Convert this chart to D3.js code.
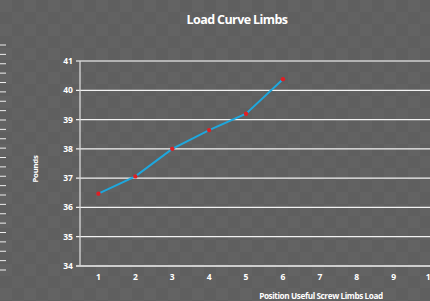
<!DOCTYPE html>
<html>
<head>
<meta charset="utf-8">
<script src="https://cdn.jsdelivr.net/npm/d3@7"></script>
<style>
  body { margin: 0; background: #606060; }
  svg { display: block; font-family: "Open Sans", "DejaVu Sans", sans-serif; }
</style>
</head>
<body>
<div id="chart"></div>
<script>
/* DATA */
const positions = ["1", "2", "3", "4", "5", "6", "7", "8", "9", "10"];
const pounds = [36.47, 37.06, 38.0, 38.64, 39.2, 40.38];
const yTicks = [34, 35, 36, 37, 38, 39, 40, 41];
// stray tick marks at the far left of the picture
const strayTicks = d3.range(0, 25);

const width = 430, height = 301;
const margin = { top: 61, left: 80, bottom: 35 };

const svg = d3.select("#chart").append("svg")
  .attr("width", width)
  .attr("height", height);

// textured background (subtle)
const defs = svg.append("defs");
const pat = defs.append("pattern")
  .attr("id", "tex")
  .attr("width", 24).attr("height", 24)
  .attr("patternUnits", "userSpaceOnUse");
pat.append("rect").attr("width", 24).attr("height", 24).attr("fill", "#5f5f5f");
pat.append("rect").attr("x", 0).attr("y", 0).attr("width", 12).attr("height", 12).attr("fill", "#636363");
pat.append("rect").attr("x", 12).attr("y", 12).attr("width", 12).attr("height", 12).attr("fill", "#626262");
svg.append("rect").attr("width", width).attr("height", height).attr("fill", "url(#tex)");

// SCALES
const x = d3.scaleBand()
  .domain(positions)
  .range([margin.left, margin.left + 36.9 * 10]);

const y = d3.scaleLinear()
  .domain([34, 41])
  .range([266, margin.top]);

// stray ticks
const sy = d3.scaleLinear().domain([0, 24]).range([45, 270]);
svg.append("g")
  .selectAll("line")
  .data(strayTicks)
  .join("line")
  .attr("x1", 0).attr("x2", 6)
  .attr("y1", d => sy(d)).attr("y2", d => sy(d))
  .attr("stroke", "#eeeeee")
  .attr("stroke-width", 1);

// gridlines
svg.append("g")
  .selectAll("line")
  .data(yTicks)
  .join("line")
  .attr("x1", margin.left - 4).attr("x2", width)
  .attr("y1", d => y(d)).attr("y2", d => y(d))
  .attr("stroke", d => d === 41 ? "#cfcfcf" : "#f2f2f2")
  .attr("stroke-width", 1.3);

// y axis line
svg.append("line")
  .attr("x1", margin.left).attr("x2", margin.left)
  .attr("y1", y(41)).attr("y2", y(34))
  .attr("stroke", "#d8d8d8")
  .attr("stroke-width", 1.3);

// y tick labels
svg.append("g")
  .selectAll("text")
  .data(yTicks)
  .join("text")
  .attr("x", 68)
  .attr("y", d => y(d) + 3)
  .attr("text-anchor", "middle")
  .attr("font-size", 8.5)
  .attr("font-weight", "bold")
  .attr("fill", "white")
  .text(d => d);

// x tick labels
svg.append("g")
  .selectAll("text")
  .data(positions)
  .join("text")
  .attr("x", d => x(d) + x.bandwidth() / 2)
  .attr("y", 280)
  .attr("text-anchor", "middle")
  .attr("font-size", 8.5)
  .attr("font-weight", "bold")
  .attr("fill", "white")
  .text(d => d);

// line + markers
const lineData = pounds.map((v, i) => ({ pos: positions[i], val: v }));
const lineGen = d3.line()
  .x(d => x(d.pos) + x.bandwidth() / 2)
  .y(d => y(d.val));

svg.append("path")
  .datum(lineData)
  .attr("d", lineGen)
  .attr("fill", "none")
  .attr("stroke", "#1ea7dd")
  .attr("stroke-width", 2);

svg.selectAll("circle.pt")
  .data(lineData)
  .join("circle")
  .attr("class", "pt")
  .attr("cx", d => x(d.pos) + x.bandwidth() / 2)
  .attr("cy", d => y(d.val))
  .attr("r", 2.2)
  .attr("fill", "#e01e24");

// titles
svg.append("text")
  .attr("x", 237).attr("y", 24)
  .attr("text-anchor", "middle")
  .attr("font-size", 12.5)
  .attr("font-weight", "bold")
  .attr("letter-spacing", -0.6)
  .attr("fill", "white")
  .text("Load Curve Limbs");

svg.append("text")
  .attr("transform", "translate(38,169) rotate(-90)")
  .attr("text-anchor", "middle")
  .attr("font-size", 7.8)
  .attr("font-weight", "bold")
  .attr("letter-spacing", -0.3)
  .attr("fill", "white")
  .text("Pounds");

svg.append("text")
  .attr("x", 321).attr("y", 299)
  .attr("text-anchor", "middle")
  .attr("font-size", 8.2)
  .attr("font-weight", "bold")
  .attr("letter-spacing", -0.4)
  .attr("fill", "white")
  .text("Position Useful Screw Limbs Load");
</script>
</body>
</html>
